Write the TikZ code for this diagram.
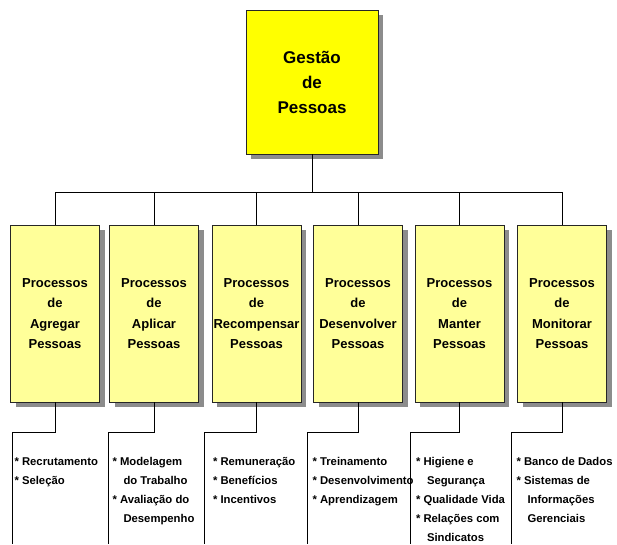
\documentclass[tikz,border=0pt]{standalone}
\usepackage{fontspec}
\setmainfont{Liberation Sans}
\usepackage{xcolor}
\usetikzlibrary{positioning}
\usetikzlibrary{shadows}
\definecolor{topyellow}{HTML}{FFFF00}
\definecolor{procyellow}{HTML}{FFFF99}
\tikzset{
  boxshadow/.style={drop shadow={shadow xshift=5pt,shadow yshift=-5pt,fill=black!45,opacity=1}},
  topbox/.style={draw=black!85,fill=topyellow,boxshadow,minimum width=132pt,minimum height=144pt,
    inner sep=0pt,align=center,font=\bfseries\fontsize{17}{25}\selectfont},
  procbox/.style={draw=black!85,fill=procyellow,boxshadow,minimum width=89pt,minimum height=177pt,
    inner sep=0pt,align=center,font=\bfseries\fontsize{13}{20.5}\selectfont},
  itemlist/.style={inner sep=0pt,align=left,anchor=north west,font=\bfseries\fontsize{11.3}{19}\selectfont},
  link/.style={draw=black,line width=0.8pt}
}
\newcommand{\ind}{\hspace*{11pt}}

\begin{document}
\begin{tikzpicture}[x=1pt,y=-1pt]
    \useasboundingbox (0,0) rectangle (617,544);

    \node[topbox] (top) at (312,82) {Gestão\\de\\Pessoas};

    \node[procbox] (p1) at (55,313.5) {Processos\\de\\Agregar\\Pessoas};
    \node[procbox] (p2) at (154,313.5) {Processos\\de\\Aplicar\\Pessoas};
    \node[procbox] (p3) at (256.5,313.5) {Processos\\de\\Recompensar\\Pessoas};
    \node[procbox] (p4) at (358,313.5) {Processos\\de\\Desenvolver\\Pessoas};
    \node[procbox] (p5) at (459.5,313.5) {Processos\\de\\Manter\\Pessoas};
    \node[procbox] (p6) at (562,313.5) {Processos\\de\\Monitorar\\Pessoas};

    \coordinate (hub) at (312,192);
    \draw[link] (top.south) -- (hub);
    \foreach \n in {p1,p2,p3,p4,p5,p6}
        \draw[link] (hub) -| (\n.north);

    \coordinate (f1) at (12,544);
    \coordinate (f2) at (108,544);
    \coordinate (f3) at (204,544);
    \coordinate (f4) at (307,544);
    \coordinate (f5) at (410,544);
    \coordinate (f6) at (511,544);
    \foreach \i in {1,...,6}
        \draw[link] (p\i.south) -- ++(0,30) -| (f\i);

    \node[itemlist] (l1) at ([shift={(4pt,-55pt)}]p1.south west) {* Recrutamento\\* Seleção};
    \node[itemlist] (l2) at ([shift={(3pt,-55pt)}]p2.south west) {* Modelagem\\\ind do Trabalho\\* Avaliação do\\\ind Desempenho};
    \node[itemlist] (l3) at ([shift={(1pt,-55pt)}]p3.south west) {* Remuneração\\* Benefícios\\* Incentivos};
    \node[itemlist] (l4) at ([shift={(-1pt,-55pt)}]p4.south west) {* Treinamento\\* Desenvolvimento\\* Aprendizagem};
    \node[itemlist] (l5) at ([shift={(1pt,-55pt)}]p5.south west) {* Higiene e\\\ind Segurança\\* Qualidade Vida\\* Relações com\\\ind Sindicatos};
    \node[itemlist] (l6) at ([shift={(-1pt,-55pt)}]p6.south west) {* Banco de Dados\\* Sistemas de\\\ind Informações\\\ind Gerenciais};
\end{tikzpicture}
\end{document}
